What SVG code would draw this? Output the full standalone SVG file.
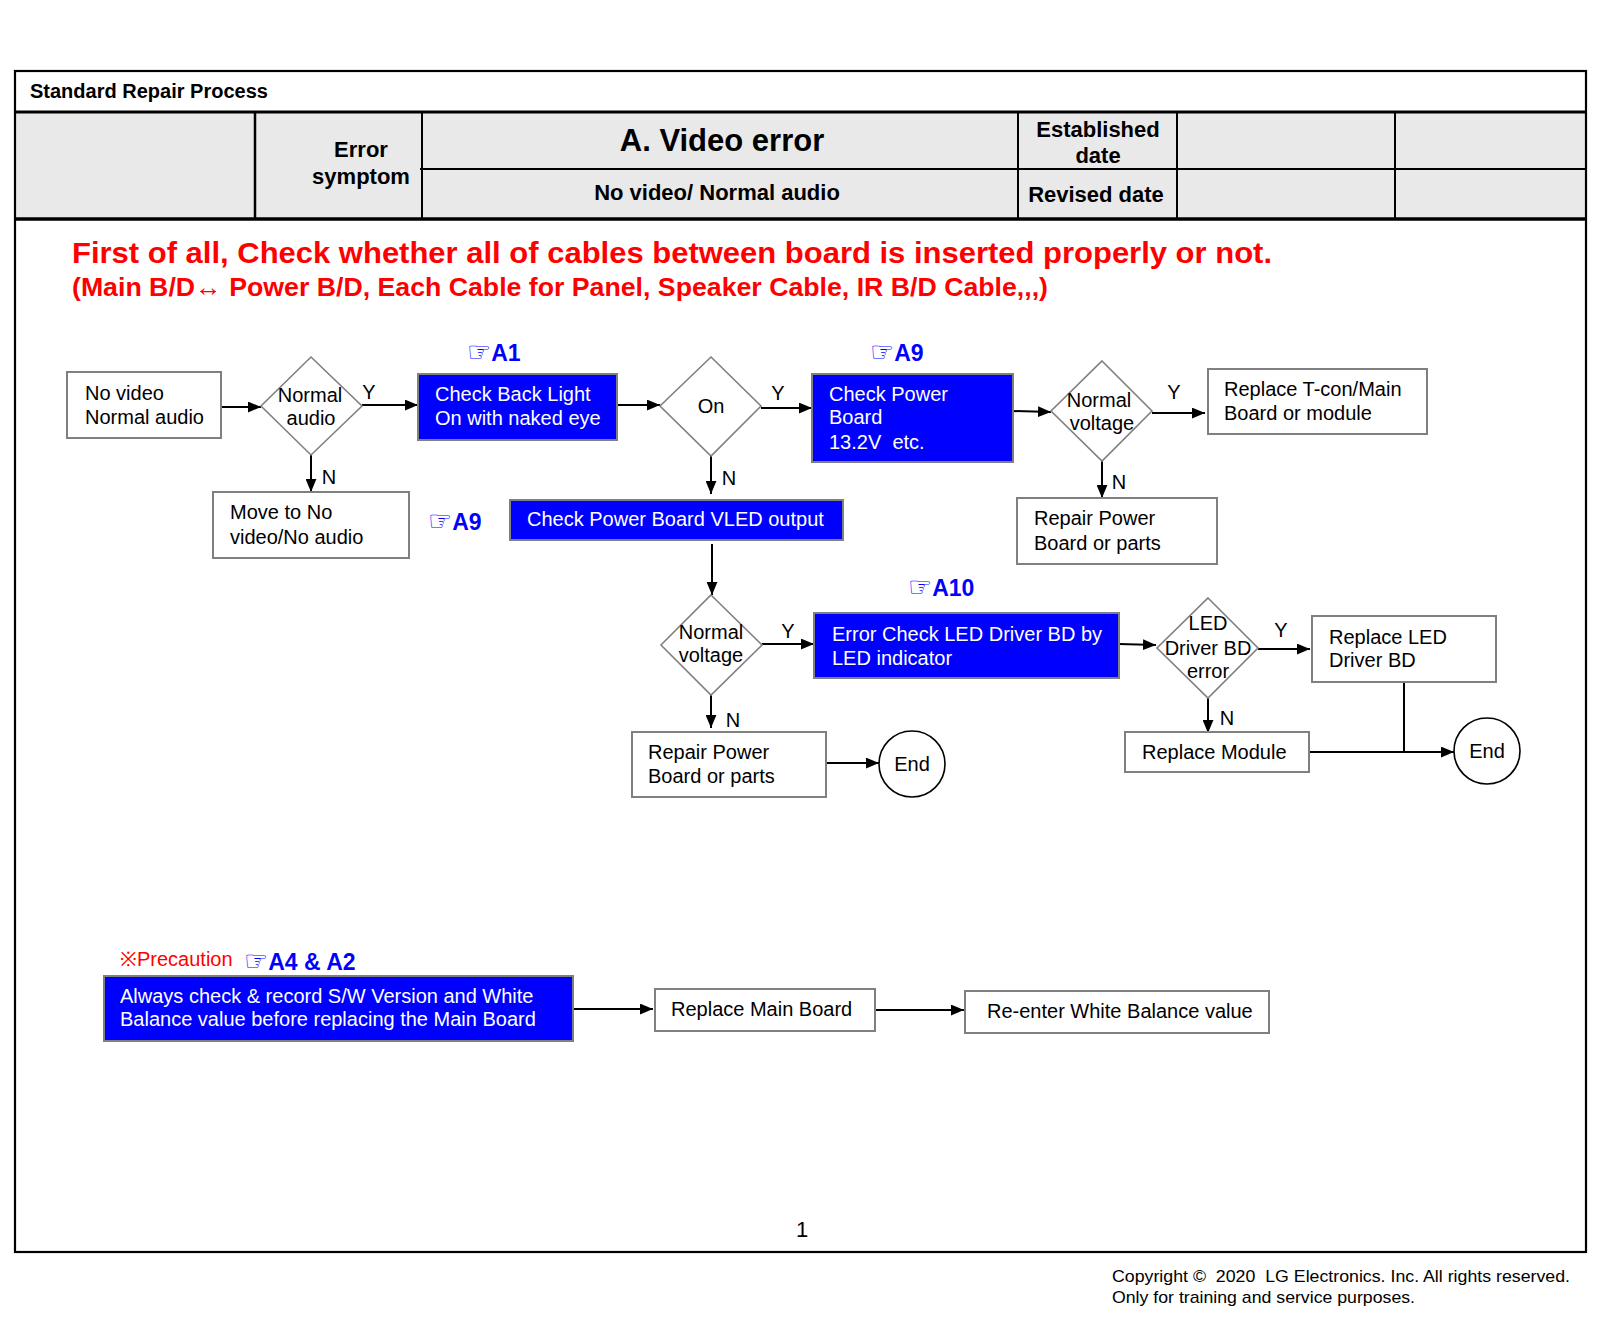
<svg xmlns="http://www.w3.org/2000/svg" width="1600" height="1326" viewBox="0 0 1600 1326">
<style>
text{font-family:"Liberation Sans",Arial,sans-serif;fill:#000}
.t{font-size:20px}
.w{font-size:20px;fill:#fff}
.hb{font-weight:bold}
.ref{font-size:23px;font-weight:bold;fill:#0000ff}
.hand{font-family:"DejaVu Sans",sans-serif;font-weight:bold;font-size:27px}
.box{fill:#fff;stroke:#808080;stroke-width:2}
.blue{fill:#0000ff;stroke:#808080;stroke-width:2}
.dia{fill:#fff;stroke:#808080;stroke-width:1.6}
.end{fill:#fff;stroke:#000;stroke-width:1.6}
.c{fill:none;stroke:#000;stroke-width:2}
.lbl{font-size:20px}
</style>
<defs>
<marker id="ah" viewBox="0 0 12 10" refX="12" refY="5" markerWidth="13" markerHeight="11" markerUnits="userSpaceOnUse" orient="auto">
<path d="M0,0 L12,5 L0,10 z" fill="#000"/>
</marker>
</defs>
<rect width="1600" height="1326" fill="#fff"/>

<g id="header">
<rect x="15" y="113" width="1570" height="105" fill="#e9e9e9"/>
<rect x="15" y="71" width="1571" height="1181" fill="none" stroke="#000" stroke-width="2.2"/>
<line x1="15" y1="112" x2="1586" y2="112" stroke="#000" stroke-width="3"/>
<line x1="15" y1="219" x2="1586" y2="219" stroke="#000" stroke-width="3.5"/>
<line x1="255" y1="112" x2="255" y2="219" stroke="#000" stroke-width="2.5"/>
<line x1="422" y1="112" x2="422" y2="219" stroke="#000" stroke-width="2"/>
<line x1="1018" y1="112" x2="1018" y2="219" stroke="#000" stroke-width="2"/>
<line x1="1177" y1="112" x2="1177" y2="219" stroke="#000" stroke-width="2"/>
<line x1="1395" y1="112" x2="1395" y2="219" stroke="#000" stroke-width="2"/>
<line x1="420" y1="169" x2="1586" y2="169" stroke="#000" stroke-width="2"/>
<text x="30" y="98" class="hb" font-size="20">Standard Repair Process</text>
<text x="361" y="157" class="hb" font-size="22" text-anchor="middle">Error</text>
<text x="361" y="184" class="hb" font-size="22" text-anchor="middle">symptom</text>
<text x="722" y="151" class="hb" font-size="31" text-anchor="middle">A. Video error</text>
<text x="717" y="200" class="hb" font-size="22" text-anchor="middle">No video/ Normal audio</text>
<text x="1098" y="137" class="hb" font-size="22" text-anchor="middle">Established</text>
<text x="1098" y="163" class="hb" font-size="22" text-anchor="middle">date</text>
<text x="1096" y="202" class="hb" font-size="22" text-anchor="middle">Revised date</text>
</g>

<g id="notice">
<text x="72" y="263" font-size="30" font-weight="bold" style="fill:#ff0000" textLength="1200" lengthAdjust="spacingAndGlyphs">First of all, Check whether all of cables between board is inserted properly or not.</text>
<text x="72" y="296" font-size="26" font-weight="bold" style="fill:#ff0000" textLength="976" lengthAdjust="spacingAndGlyphs">(Main B/D↔ Power B/D, Each Cable for Panel, Speaker Cable, IR B/D Cable,,,)</text>
</g>

<g id="connectors">
<path class="c" d="M221,407 L261,407" marker-end="url(#ah)"/>
<path class="c" d="M362,405 L418,405" marker-end="url(#ah)"/>
<path class="c" d="M311,455 L311,492" marker-end="url(#ah)"/>
<path class="c" d="M617,405 L660,405" marker-end="url(#ah)"/>
<path class="c" d="M761,408 L812,408" marker-end="url(#ah)"/>
<path class="c" d="M711,456 L711,494" marker-end="url(#ah)"/>
<path class="c" d="M1013,411 L1051,412" marker-end="url(#ah)"/>
<path class="c" d="M1152,413 L1205,413" marker-end="url(#ah)"/>
<path class="c" d="M1102,461 L1102,498" marker-end="url(#ah)"/>
<path class="c" d="M712,544 L712,595" marker-end="url(#ah)"/>
<path class="c" d="M762,644 L814,644" marker-end="url(#ah)"/>
<path class="c" d="M711,695 L711,728" marker-end="url(#ah)"/>
<path class="c" d="M826,763 L879,763" marker-end="url(#ah)"/>
<path class="c" d="M1119,644 L1156,645" marker-end="url(#ah)"/>
<path class="c" d="M1258,649 L1310,649" marker-end="url(#ah)"/>
<path class="c" d="M1208,698 L1208,733" marker-end="url(#ah)"/>
<path class="c" d="M1309,752 L1454,752" marker-end="url(#ah)"/>
<path class="c" d="M1404,682 L1404,752"/>
<path class="c" d="M573,1009 L653,1009" marker-end="url(#ah)"/>
<path class="c" d="M875,1010 L964,1010" marker-end="url(#ah)"/>
<text x="369" y="399" class="lbl" text-anchor="middle">Y</text>
<text x="329" y="484" class="lbl" text-anchor="middle">N</text>
<text x="778" y="400" class="lbl" text-anchor="middle">Y</text>
<text x="729" y="485" class="lbl" text-anchor="middle">N</text>
<text x="1174" y="399" class="lbl" text-anchor="middle">Y</text>
<text x="1119" y="489" class="lbl" text-anchor="middle">N</text>
<text x="788" y="638" class="lbl" text-anchor="middle">Y</text>
<text x="733" y="727" class="lbl" text-anchor="middle">N</text>
<text x="1281" y="637" class="lbl" text-anchor="middle">Y</text>
<text x="1227" y="725" class="lbl" text-anchor="middle">N</text>
</g>

<g id="n_start">
<rect class="box" x="67" y="372" width="154" height="66"/>
<text class="t" x="85" y="400">No video</text>
<text class="t" x="85" y="424">Normal audio</text>
</g>
<g id="d_audio">
<polygon class="dia" points="311,357 362,406 311,455 261,406"/>
<text class="t" x="310" y="402" text-anchor="middle">Normal</text>
<text class="t" x="311" y="425" text-anchor="middle">audio</text>
</g>
<g id="n_backlight">
<text class="ref" x="467" y="361"><tspan class="hand">☞</tspan>A1</text>
<rect class="blue" x="418" y="374" width="199" height="66"/>
<text class="w" x="435" y="401">Check Back Light</text>
<text class="w" x="435" y="425">On with naked eye</text>
</g>
<g id="n_moveto">
<rect class="box" x="213" y="492" width="196" height="66"/>
<text class="t" x="230" y="519">Move to No</text>
<text class="t" x="230" y="544">video/No audio</text>
</g>
<g id="d_on">
<polygon class="dia" points="711,357 761,406 711,456 660,406"/>
<text class="t" x="711" y="413" text-anchor="middle">On</text>
</g>
<g id="n_checkpower">
<text class="ref" x="870" y="361"><tspan class="hand">☞</tspan>A9</text>
<rect class="blue" x="812" y="374" width="201" height="88"/>
<text class="w" x="829" y="401">Check Power</text>
<text class="w" x="829" y="424">Board</text>
<text class="w" x="829" y="449" xml:space="preserve">13.2V  etc.</text>
</g>
<g id="d_voltage1">
<polygon class="dia" points="1102,361 1152,411 1102,461 1051,411"/>
<text class="t" x="1099" y="407" text-anchor="middle">Normal</text>
<text class="t" x="1102" y="430" text-anchor="middle">voltage</text>
</g>
<g id="n_tcon">
<rect class="box" x="1208" y="369" width="219" height="65"/>
<text class="t" x="1224" y="396">Replace T-con/Main</text>
<text class="t" x="1224" y="420">Board or module</text>
</g>
<g id="n_repair1">
<rect class="box" x="1017" y="498" width="200" height="66"/>
<text class="t" x="1034" y="525">Repair Power</text>
<text class="t" x="1034" y="550">Board or parts</text>
</g>
<g id="n_vled">
<text class="ref" x="428" y="530"><tspan class="hand">☞</tspan>A9</text>
<rect class="blue" x="510" y="500" width="333" height="40"/>
<text class="w" x="527" y="526">Check Power Board VLED output</text>
</g>
<g id="d_voltage2">
<polygon class="dia" points="711,595 762,645 711,695 661,645"/>
<text class="t" x="711" y="639" text-anchor="middle">Normal</text>
<text class="t" x="711" y="662" text-anchor="middle">voltage</text>
</g>
<g id="n_ledcheck">
<text class="ref" x="908" y="596"><tspan class="hand">☞</tspan>A10</text>
<rect class="blue" x="814" y="613" width="305" height="65"/>
<text class="w" x="832" y="641">Error Check LED Driver BD by</text>
<text class="w" x="832" y="665">LED indicator</text>
</g>
<g id="d_led">
<polygon class="dia" points="1208,598 1258,648 1208,698 1157,648"/>
<text class="t" x="1208" y="630" text-anchor="middle">LED</text>
<text class="t" x="1208" y="655" text-anchor="middle">Driver BD</text>
<text class="t" x="1208" y="678" text-anchor="middle">error</text>
</g>
<g id="n_replaceled">
<rect class="box" x="1312" y="616" width="184" height="66"/>
<text class="t" x="1329" y="644">Replace LED</text>
<text class="t" x="1329" y="667">Driver BD</text>
</g>
<g id="n_module">
<rect class="box" x="1125" y="732" width="184" height="40"/>
<text class="t" x="1142" y="759">Replace Module</text>
</g>
<g id="n_end2">
<circle class="end" cx="1487" cy="751" r="33"/>
<text class="t" x="1487" y="758" text-anchor="middle">End</text>
</g>
<g id="n_repair2">
<rect class="box" x="632" y="732" width="194" height="65"/>
<text class="t" x="648" y="759">Repair Power</text>
<text class="t" x="648" y="783">Board or parts</text>
</g>
<g id="n_end1">
<circle class="end" cx="912" cy="764" r="33"/>
<text class="t" x="912" y="771" text-anchor="middle">End</text>
</g>

<g id="n_precaution">
<text x="120" y="966" font-size="20" style="fill:#ff0000">※Precaution</text>
<text class="ref" x="244" y="970" font-size="24"><tspan class="hand">☞</tspan>A4 &amp; A2</text>
<rect class="blue" x="104" y="976" width="469" height="65"/>
<text class="w" x="120" y="1003">Always check &amp; record S/W Version and White</text>
<text class="w" x="120" y="1026">Balance value before replacing the Main Board</text>
</g>
<g id="n_mainboard">
<rect class="box" x="655" y="989" width="220" height="42"/>
<text class="t" x="671" y="1016">Replace Main Board</text>
</g>
<g id="n_whitebalance">
<rect class="box" x="965" y="991" width="304" height="42"/>
<text class="t" x="987" y="1018">Re-enter White Balance value</text>
</g>

<g id="footer">
<text x="802" y="1237" font-size="22" text-anchor="middle">1</text>
<text x="1112" y="1282" font-size="17" textLength="458" lengthAdjust="spacingAndGlyphs" xml:space="preserve">Copyright ©  2020  LG Electronics. Inc. All rights reserved.</text>
<text x="1112" y="1303" font-size="17" textLength="303" lengthAdjust="spacingAndGlyphs">Only for training and service purposes.</text>
</g>
</svg>
